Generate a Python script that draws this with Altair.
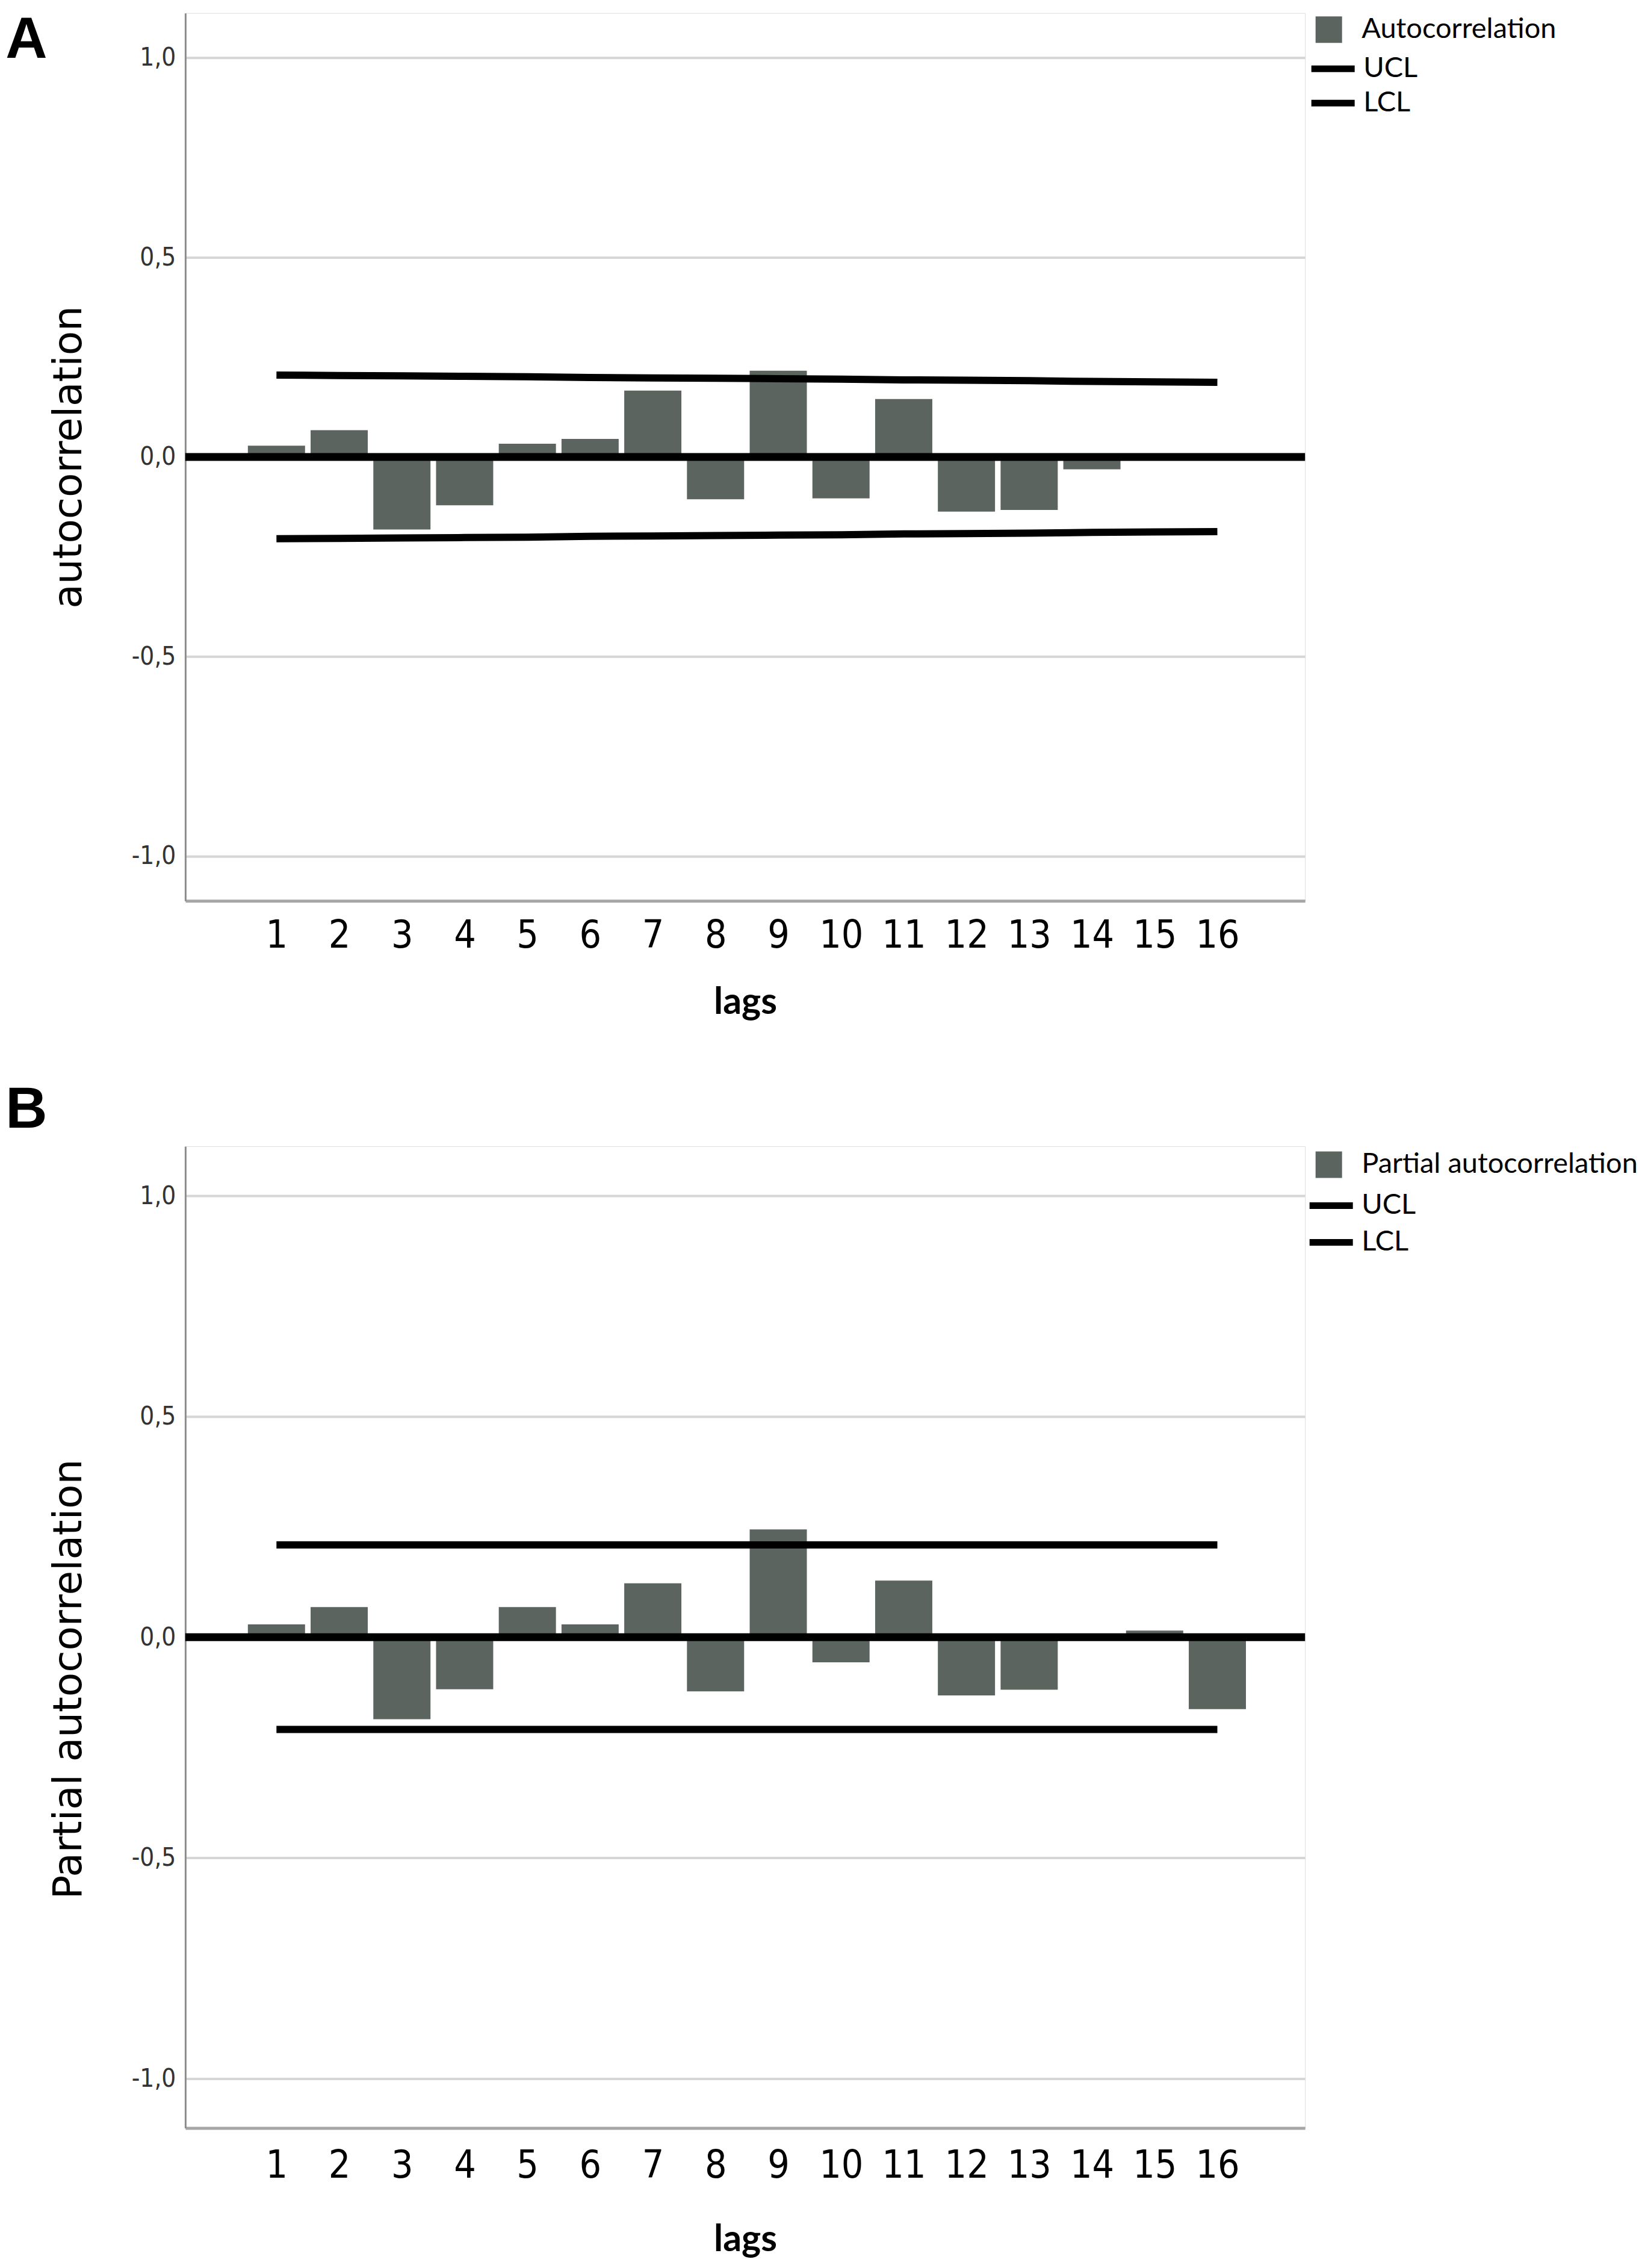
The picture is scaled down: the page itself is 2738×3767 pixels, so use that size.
import altair as alt
import pandas as pd

# ---------------- data ----------------
LAGS = [1, 2, 3, 4, 5, 6, 7, 8, 9, 10, 11, 12, 13, 14, 15, 16]

ACF = [0.028, 0.067, -0.182, -0.121, 0.033, 0.045, 0.166, -0.106,
       0.216, -0.104, 0.145, -0.137, -0.133, -0.031, -0.004, 0.002]
ACF_UCL = [0.205, 0.204, 0.203, 0.202, 0.201, 0.199, 0.198, 0.197,
           0.196, 0.195, 0.193, 0.192, 0.191, 0.189, 0.188, 0.187]
ACF_LCL = [-0.205, -0.204, -0.203, -0.202, -0.201, -0.199, -0.198, -0.197,
           -0.196, -0.195, -0.193, -0.192, -0.191, -0.189, -0.188, -0.187]

PACF = [0.029, 0.068, -0.186, -0.118, 0.068, 0.029, 0.122, -0.123,
        0.244, -0.057, 0.128, -0.132, -0.119, -0.002, 0.015, -0.163]
PACF_UCL = [0.209, 0.209, 0.209, 0.209, 0.209, 0.209, 0.209, 0.209,
            0.209, 0.209, 0.209, 0.209, 0.209, 0.209, 0.209, 0.209]
PACF_LCL = [-0.209, -0.209, -0.209, -0.209, -0.209, -0.209, -0.209, -0.209,
            -0.209, -0.209, -0.209, -0.209, -0.209, -0.209, -0.209, -0.209]

ZERO = [0.0]
Y_TICKS = [-1.0, -0.5, 0.0, 0.5, 1.0]
LIMIT_NAMES = ["UCL", "LCL"]

BAR_COLOR = "#5b645e"
NARROW = "Liberation Sans Narrow, DejaVu Sans Condensed, sans-serif"
W = 1861


def panel(values, ucl, lcl, series_name, y_title, height, letter,
          letter_baseline, letter_offset, label_pad, title_pad,
          fill_pad, row_pad, title_y=None):
    bars_df = pd.DataFrame({"lag": LAGS, "value": values, "series": series_name})
    lines_df = pd.concat([
        pd.DataFrame({"lag": LAGS, "value": ucl, "series": LIMIT_NAMES[0]}),
        pd.DataFrame({"lag": LAGS, "value": lcl, "series": LIMIT_NAMES[1]}),
    ])
    zero_df = pd.DataFrame({"value": ZERO})

    fill = alt.Fill(
        "series:N",
        scale=alt.Scale(domain=[series_name], range=[BAR_COLOR]),
        legend=alt.Legend(
            title=None, orient="right", offset=21 - fill_pad, padding=fill_pad,
            symbolType="square", symbolSize=1936, symbolStrokeWidth=0,
            symbolOffset=-5,
            labelFont="Lato", labelFontSize=47, labelColor="black",
            labelLimit=1000, labelOffset=31,
        ),
    )
    stroke = alt.Stroke(
        "series:N",
        scale=alt.Scale(domain=LIMIT_NAMES, range=["black", "black"]),
        legend=alt.Legend(
            title=None, orient="right", offset=12, padding=0,
            symbolType="M-1.5,0H1.5", symbolSize=2304, symbolStrokeWidth=11,
            rowPadding=row_pad,
            labelFont="Lato", labelFontSize=47, labelColor="black",
            labelLimit=1000, labelOffset=21,
        ),
    )

    y_axis_kwargs = dict(
        values=Y_TICKS,
        labelExpr="(datum.value < 0 ? '-' : '') + replace(format(abs(datum.value), '.1f'), '.', ',')",
        grid=True, gridColor="#d6d6d6", gridWidth=4,
        ticks=False, tickSize=0, labelPadding=16,
        labelFont=NARROW, labelFontSize=42, labelColor="#333333",
        domainColor="#8c8c8c", domainWidth=3,
        title=y_title, titleFont="DejaVu Sans", titleFontSize=66,
        titleFontWeight="normal", titleColor="black", titlePadding=70,
    )
    if title_y is not None:
        y_axis_kwargs["titleY"] = title_y
    yenc = alt.Y("value:Q", scale=alt.Scale(domain=[-1.112, 1.112], nice=False),
                 axis=alt.Axis(**y_axis_kwargs))
    xenc = alt.X(
        "lag:Q",
        scale=alt.Scale(domain=[-0.405, 17.35], nice=False, zero=False),
        axis=alt.Axis(
            values=LAGS, format="d", title="lags", grid=False, ticks=False, tickSize=0,
            labelFont=NARROW, labelFontSize=64, labelColor="black", labelPadding=label_pad,
            labelFlush=False,
            domainColor="#a6a6a6", domainWidth=5,
            titleFont="Lato", titleFontWeight="bold", titleFontSize=61,
            titleColor="black", titlePadding=title_pad,
        ),
    )

    bars = alt.Chart(bars_df).mark_bar(size=95).encode(x=xenc, y=yenc, fill=fill)
    lines = alt.Chart(lines_df).mark_line(strokeWidth=12, strokeCap="butt").encode(
        x="lag:Q", y=yenc, stroke=stroke, detail="series:N")
    zero = alt.Chart(zero_df).mark_rule(color="black", strokeWidth=13).encode(y=yenc)

    return alt.layer(bars, lines, zero).properties(
        width=W, height=height,
        title=alt.TitleParams(
            letter, orient="top", anchor="start", frame="bounds", align="left",
            baseline=letter_baseline, offset=letter_offset, dx=-72,
            fontSize=96, font="Liberation Sans", fontWeight="bold", color="black",
        ),
    )


top = panel(ACF, ACF_UCL, ACF_LCL, "Autocorrelation", "autocorrelation", 1475, "A",
            "top", -94, 26, 49, 4, 4)
bottom = panel(PACF, PACF_UCL, PACF_LCL, "Partial autocorrelation", "Partial autocorrelation",
               1631, "B", "alphabetic", -65, 31, 61, 7, 8, title_y=885)

chart = alt.vconcat(top, bottom, spacing=99).resolve_scale(
    fill="independent", stroke="independent"
).properties(
    padding={"left": 0, "top": 9, "right": 0, "bottom": 0}
).configure_view(strokeWidth=0, stroke="transparent").configure(background="white")

chart.save("out.html", embed_options={"renderer": "svg", "actions": False})
